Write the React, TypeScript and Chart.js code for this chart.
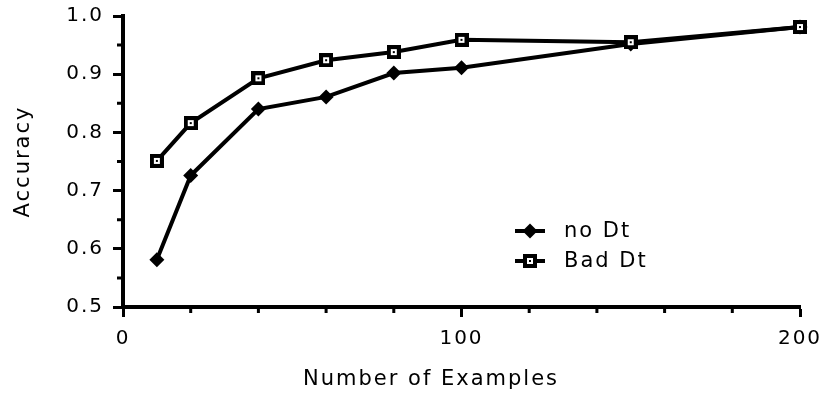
import React, { useEffect, useRef } from "react";
import { Chart, registerables } from "chart.js";

Chart.register(...registerables);

// ---- data ----
const examples = [10, 20, 40, 60, 80, 100, 150, 200];
const noDt = [0.581, 0.726, 0.84, 0.861, 0.902, 0.911, 0.952, 0.981];
const badDt = [0.751, 0.816, 0.893, 0.924, 0.938, 0.959, 0.955, 0.981];
const seriesLabels = ["no Dt", "Bad Dt"];
const xMinorTicks = [20, 40, 60, 80, 120, 140, 160, 180];
const yMinorTicks = [0.55, 0.65, 0.75, 0.85, 0.95];
const xTitle = "Number of Examples";
const yTitle = "Accuracy";

const FAMILY = '"DejaVu Sans", sans-serif';
const SPACING = "2px";

function makeSquareMarker(): HTMLCanvasElement {
  const c = document.createElement("canvas");
  c.width = 14;
  c.height = 14;
  const g = c.getContext("2d")!;
  g.fillStyle = "#000";
  g.fillRect(0, 0, 14, 14);
  g.fillStyle = "#fff";
  g.fillRect(4, 4, 6, 6);
  g.fillStyle = "#000";
  g.fillRect(6, 6, 2, 2);
  return c;
}

function drawDiamond(ctx: CanvasRenderingContext2D, x: number, y: number, r: number) {
  ctx.beginPath();
  ctx.moveTo(x, y - r);
  ctx.lineTo(x + r, y);
  ctx.lineTo(x, y + r);
  ctx.lineTo(x - r, y);
  ctx.closePath();
  ctx.fillStyle = "#000";
  ctx.fill();
}

export default function App() {
  const ref = useRef<HTMLCanvasElement | null>(null);

  useEffect(() => {
    if (!ref.current) return;
    const square = makeSquareMarker();

    const spacingPlugin = {
      id: "spacing",
      beforeLayout(chart: any) {
        chart.ctx.letterSpacing = SPACING;
      },
      beforeDraw(chart: any) {
        chart.ctx.letterSpacing = SPACING;
      },
    };

    const extrasPlugin = {
      id: "extras",
      afterDraw(chart: any) {
        const ctx: CanvasRenderingContext2D = chart.ctx;
        const xs = chart.scales.x;
        const ys = chart.scales.y;
        const bottom = chart.chartArea.bottom;
        const left = chart.chartArea.left;
        ctx.save();
        ctx.strokeStyle = "#000";
        ctx.lineWidth = 3;
        ctx.beginPath();
        xMinorTicks.forEach((v) => {
          const px = xs.getPixelForValue(v);
          ctx.moveTo(px, bottom);
          ctx.lineTo(px, bottom + 6);
        });
        yMinorTicks.forEach((v) => {
          const py = ys.getPixelForValue(v);
          ctx.moveTo(left, py);
          ctx.lineTo(left - 6, py);
        });
        ctx.stroke();

        // x axis title
        ctx.letterSpacing = SPACING;
        ctx.fillStyle = "#000";
        ctx.font = `21px ${FAMILY}`;
        ctx.textAlign = "center";
        ctx.textBaseline = "alphabetic";
        ctx.fillText(xTitle, 431, 385);

        // legend
        const items = [
          { label: seriesLabels[0], y: 231, kind: "diamond" },
          { label: seriesLabels[1], y: 261, kind: "square" },
        ];
        items.forEach((it) => {
          ctx.lineWidth = 4;
          ctx.beginPath();
          ctx.moveTo(515, it.y);
          ctx.lineTo(545, it.y);
          ctx.stroke();
          if (it.kind === "diamond") drawDiamond(ctx, 530, it.y, 7.5);
          else ctx.drawImage(square, 523, it.y - 7);
          ctx.textAlign = "left";
          ctx.textBaseline = "middle";
          ctx.fillText(it.label, 564, it.y + 1);
        });
        ctx.restore();
      },
    };

    const chart = new Chart(ref.current, {
      type: "line",
      data: {
        datasets: [
          {
            label: seriesLabels[0],
            data: examples.map((x, i) => ({ x, y: noDt[i] })),
            borderColor: "#000",
            backgroundColor: "#000",
            borderWidth: 4,
            pointStyle: "rectRot",
            pointRadius: 7.5,
            pointBorderWidth: 0,
            pointBackgroundColor: "#000",
            tension: 0,
            order: 1,
            clip: false as any,
          },
          {
            label: seriesLabels[1],
            data: examples.map((x, i) => ({ x, y: badDt[i] })),
            borderColor: "#000",
            backgroundColor: "#000",
            borderWidth: 4,
            pointStyle: square as any,
            pointRadius: 7,
            tension: 0,
            order: 0,
            clip: false as any,
          },
        ],
      },
      options: {
        animation: false,
        responsive: true,
        maintainAspectRatio: false,
        layout: { autoPadding: false, padding: { top: 16, right: 22, left: 0, bottom: 0 } },
        plugins: {
          legend: { display: false },
          tooltip: { enabled: false },
        },
        scales: {
          x: {
            type: "linear",
            min: 0,
            max: 200,
            ticks: {
              stepSize: 100,
              color: "#000",
              padding: 10,
              maxRotation: 0,
              font: { family: FAMILY, size: 20 },
            },
            grid: {
              drawOnChartArea: false,
              drawTicks: true,
              tickLength: 10,
              tickWidth: 3,
              tickColor: "#000",
              color: "#000",
            },
            border: { display: true, color: "#000", width: 4 },
            afterFit: (s: any) => {
              s.height = 87;
              s.paddingLeft = 0;
              s.paddingRight = 0;
            },
          },
          y: {
            type: "linear",
            min: 0.5,
            max: 1.0,
            ticks: {
              stepSize: 0.1,
              color: "#000",
              padding: 9,
              font: { family: FAMILY, size: 20 },
              callback: (v: any) => Number(v).toFixed(1),
            },
            grid: {
              drawOnChartArea: false,
              drawTicks: true,
              tickLength: 10,
              tickWidth: 3,
              tickColor: "#000",
              color: "#000",
            },
            border: { display: true, color: "#000", width: 4 },
            title: {
              display: true,
              text: yTitle,
              color: "#000",
              font: { family: FAMILY, size: 21 },
              padding: { top: 11, bottom: 0 },
            },
            afterFit: (s: any) => {
              s.width = 123;
              s.paddingTop = 0;
              s.paddingBottom = 0;
            },
          },
        },
      },
      plugins: [spacingPlugin, extrasPlugin],
    });

    return () => chart.destroy();
  }, []);

  return (
    <div style={{ position: "absolute", left: 0, top: 0, width: 822, height: 394 }}>
      <canvas ref={ref} />
    </div>
  );
}
